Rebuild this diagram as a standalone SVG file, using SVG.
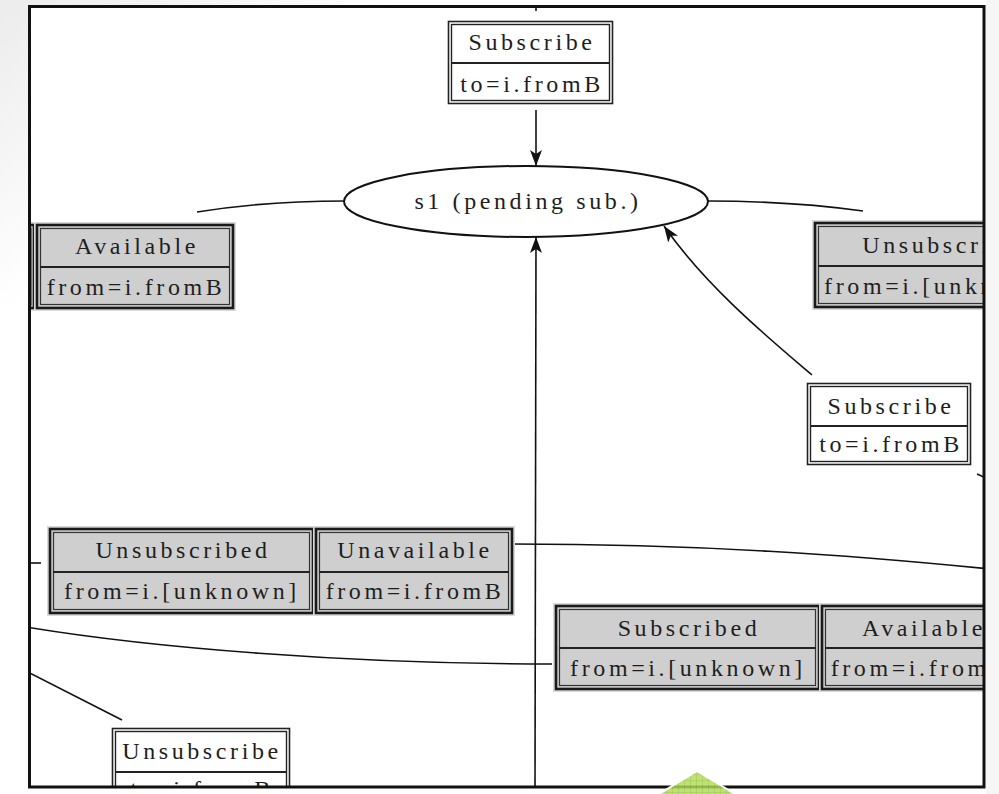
<svg xmlns="http://www.w3.org/2000/svg" width="999" height="794" viewBox="0 0 999 794">
<style>
.t{font-family:"Liberation Serif","Times New Roman",serif;font-size:24px;letter-spacing:3.6px;fill:#1e1e1e;text-anchor:middle}
.edge{fill:none;stroke:#111;stroke-width:1.6}
.wo{fill:#fff;stroke:#222;stroke-width:1.6}
.wi{fill:none;stroke:#222;stroke-width:1.4}
.gh{fill:none;stroke:#d9d9d9;stroke-width:3}
.go{fill:#cfcfcf;stroke:#1a1a1a;stroke-width:2.6}
.gi{fill:none;stroke:#333;stroke-width:1.2}
.dv{stroke:#222;stroke-width:2}
</style>
<defs>
<clipPath id="clip"><rect x="29" y="6" width="955" height="781"/></clipPath>
<marker id="arr" viewBox="0 0 16 12" refX="16" refY="6" markerWidth="16" markerHeight="12" orient="auto" markerUnits="userSpaceOnUse"><path d="M0,0 L16,6 L0,12 L4,6 z" fill="#111"/></marker>
<pattern id="grid" width="6" height="6" patternUnits="userSpaceOnUse"><rect width="6" height="6" fill="#b4da5c"/><path d="M0,0 H6 M0,0 V6" stroke="#8fc03a" stroke-width="1"/></pattern>
<linearGradient id="bg" x1="0" y1="0" x2="0.2" y2="0.2"><stop offset="0" stop-color="#ececec"/><stop offset="1" stop-color="#ffffff"/></linearGradient>
</defs>
<rect width="999" height="794" fill="url(#bg)"/>
<rect x="986" y="0" width="13" height="794" fill="#f6f6f6"/>
<rect x="29" y="6" width="955" height="781" fill="#fff"/>
<g clip-path="url(#clip)">
<g id="connectors">
<path class="edge" d="M536,6 L536,11"/>
<path class="edge" d="M536,110 L536,166" marker-end="url(#arr)"/>
<path class="edge" d="M535,790 L536,237" marker-end="url(#arr)"/>
<path class="edge" d="M812,375 C765,335 705,285 664,226" marker-end="url(#arr)"/>
<path class="edge" d="M345,201 C290,201 240,205 197,212"/>
<path class="edge" d="M708,201 C770,201 820,205 863,211"/>
<path class="edge" d="M512,544 C700,544 850,555 990,569"/>
<path class="edge" d="M20,626 C150,648 350,664 552,664"/>
<path class="edge" d="M20,563 L41,563"/>
<path class="edge" d="M20,668 L122,720"/>
<path class="edge" d="M977,474 L990,480"/>
</g>
<g id="s1">
<ellipse cx="526" cy="201.5" rx="182" ry="35.5" fill="#fff" stroke="#111" stroke-width="2"/>
<text class="t" x="528" y="209">s1 (pending sub.)</text>
</g>
<g id="subscribe-top">
<rect class="wo" x="448.5" y="21.5" width="164" height="82"/>
<rect class="wi" x="451.5" y="24.5" width="158" height="76"/>
<line class="dv" x1="451" y1="63" x2="610" y2="63"/>
<text class="t" x="532" y="50">Subscribe</text>
<text class="t" x="532" y="92">to=i.fromB</text>
</g>
<g id="partial-left">
<rect class="gh" x="-160" y="223.5" width="196" height="86"/>
<rect class="go" x="-160" y="225" width="194" height="83"/>
<rect class="gi" x="-157" y="228" width="188" height="77"/>
</g>
<g id="available-left">
<rect class="gh" x="35.5" y="223.5" width="199" height="86"/>
<rect class="go" x="37" y="225" width="196" height="83"/>
<rect class="gi" x="40.5" y="228.5" width="189" height="76"/>
<line class="dv" x1="40" y1="267" x2="230" y2="267"/>
<text class="t" x="137" y="254">Available</text>
<text class="t" x="136" y="295">from=i.fromB</text>
</g>
<g id="unsubscribe-right">
<rect class="gh" x="813.5" y="221.5" width="253" height="87"/>
<rect class="go" x="815" y="223" width="250" height="84"/>
<rect class="gi" x="818.5" y="226.5" width="243" height="77"/>
<line class="dv" x1="818" y1="266" x2="1062" y2="266"/>
<text class="t" x="942" y="253">Unsubscribe</text>
<text class="t" x="942" y="294">from=i.[unknown]</text>
</g>
<g id="subscribe-mid">
<rect class="wo" x="807.5" y="383.5" width="163" height="81"/>
<rect class="wi" x="810.5" y="386.5" width="157" height="75"/>
<line class="dv" x1="810" y1="426" x2="968" y2="426"/>
<text class="t" x="891" y="414">Subscribe</text>
<text class="t" x="891" y="452">to=i.fromB</text>
</g>
<g id="unsubscribed">
<rect class="gh" x="48.5" y="527.5" width="266" height="87"/>
<rect class="go" x="50" y="529" width="263" height="84"/>
<rect class="gi" x="53.5" y="532.5" width="256" height="77"/>
<line class="dv" x1="53" y1="572" x2="310" y2="572"/>
<text class="t" x="183" y="558">Unsubscribed</text>
<text class="t" x="182" y="599">from=i.[unknown]</text>
</g>
<g id="unavailable">
<rect class="gh" x="314.5" y="527.5" width="199" height="87"/>
<rect class="go" x="316" y="529" width="196" height="84"/>
<rect class="gi" x="319.5" y="532.5" width="189" height="77"/>
<line class="dv" x1="319" y1="572" x2="509" y2="572"/>
<text class="t" x="415" y="558">Unavailable</text>
<text class="t" x="415" y="599">from=i.fromB</text>
</g>
<g id="subscribed">
<rect class="gh" x="554.5" y="604.5" width="266" height="86"/>
<rect class="go" x="556" y="606" width="263" height="83"/>
<rect class="gi" x="559.5" y="609.5" width="256" height="76"/>
<line class="dv" x1="559" y1="648" x2="816" y2="648"/>
<text class="t" x="689" y="636">Subscribed</text>
<text class="t" x="688" y="676">from=i.[unknown]</text>
</g>
<g id="available-right">
<rect class="gh" x="820.5" y="604.5" width="199" height="86"/>
<rect class="go" x="822" y="606" width="196" height="83"/>
<rect class="gi" x="825.5" y="609.5" width="189" height="76"/>
<line class="dv" x1="825" y1="648" x2="1015" y2="648"/>
<text class="t" x="924" y="636">Available</text>
<text class="t" x="920" y="676">from=i.fromB</text>
</g>
<g id="unsubscribe-bottom">
<rect class="wo" x="112.5" y="728.5" width="177" height="82"/>
<rect class="wi" x="115.5" y="731.5" width="171" height="76"/>
<line class="dv" x1="115" y1="772" x2="287" y2="772"/>
<text class="t" x="202" y="759">Unsubscribe</text>
<text class="t" x="202" y="797">to=i.fromB</text>
</g>
</g>
<rect x="29.5" y="6.5" width="954.5" height="780.5" fill="none" stroke="#111" stroke-width="3"/>
<polygon points="697,771 740,797 654,797" fill="url(#grid)" fill-opacity="0.85" stroke="#fff" stroke-width="2"/>
</svg>
